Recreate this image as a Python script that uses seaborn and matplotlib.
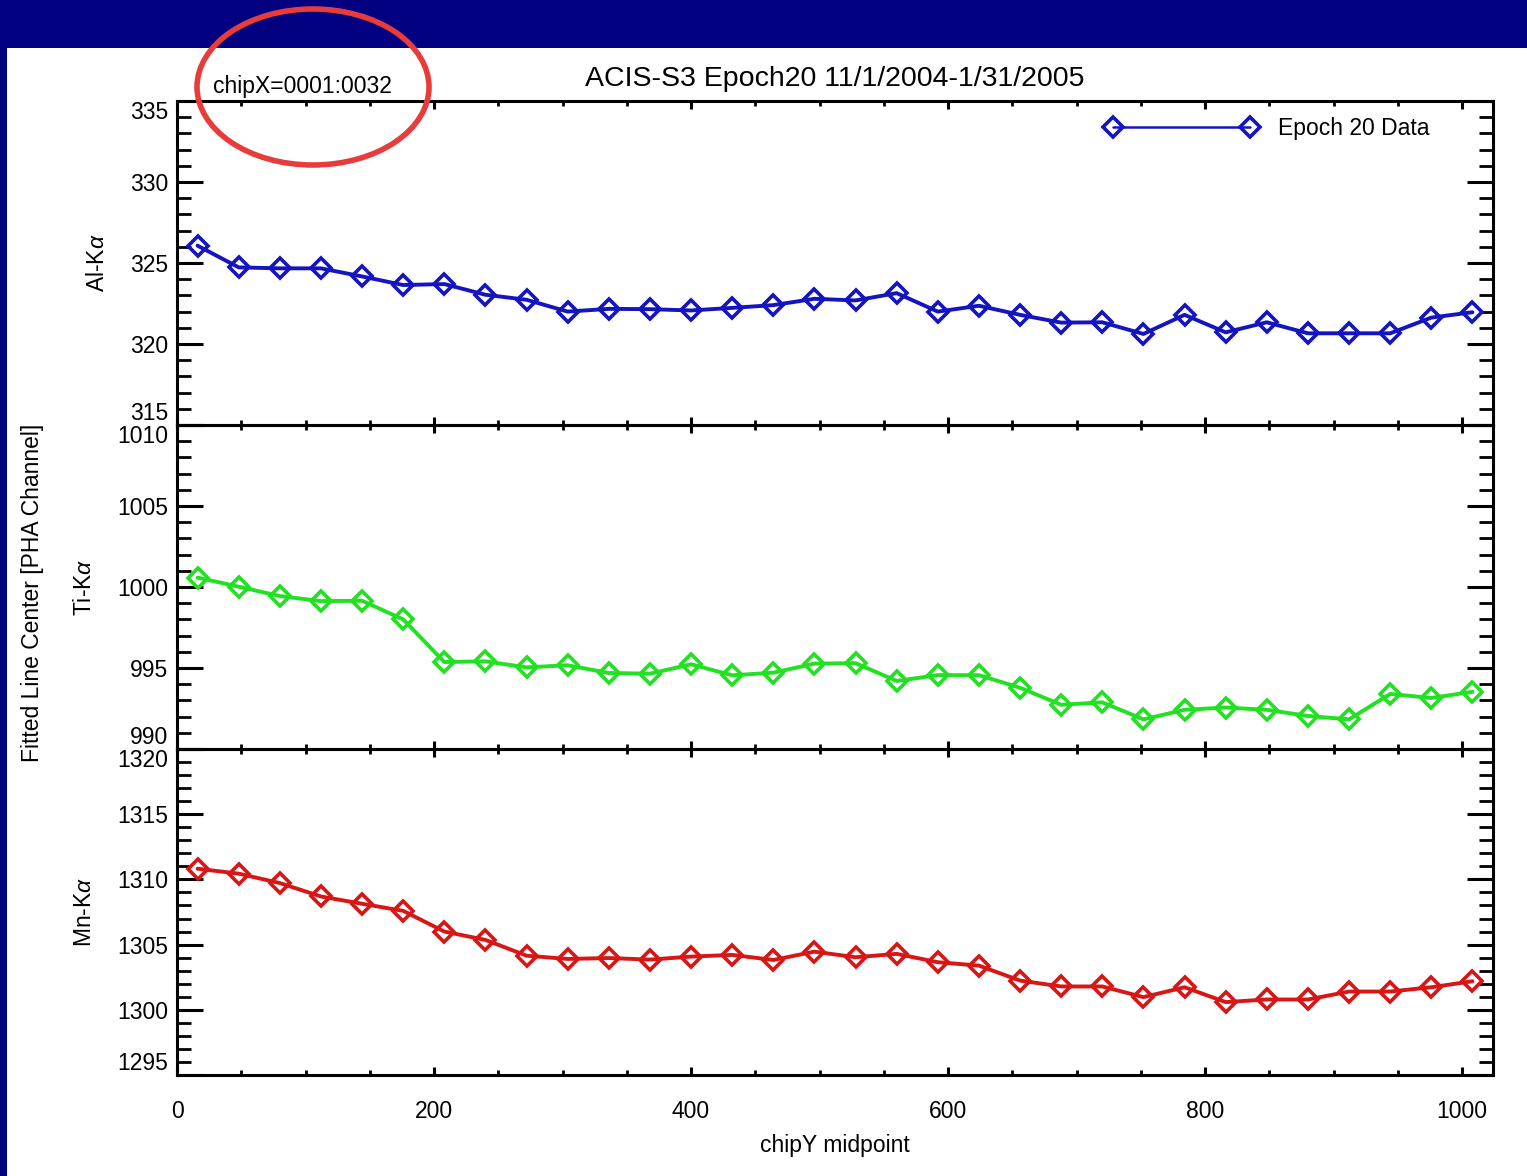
import numpy as np
import pandas as pd
import matplotlib
matplotlib.use("Agg")
import matplotlib.pyplot as plt
from matplotlib.patches import Rectangle, Ellipse
from matplotlib.ticker import MultipleLocator
import seaborn as sns

# ---- data -------------------------------------------------------------
chip_y = [16 + 32 * i for i in range(32)]

al_ka = [326.07, 324.73, 324.67, 324.67, 324.17, 323.64, 323.70, 323.04,
         322.73, 322.00, 322.17, 322.15, 322.07, 322.23, 322.40, 322.79,
         322.69, 323.14, 322.00, 322.36, 321.80, 321.32, 321.34, 320.62,
         321.80, 320.72, 321.34, 320.66, 320.66, 320.66, 321.63, 321.96]

ti_ka = [1000.58, 1000.02, 999.44, 999.13, 999.15, 998.00, 995.37, 995.41,
         995.04, 995.17, 994.69, 994.65, 995.23, 994.55, 994.71, 995.27,
         995.30, 994.20, 994.56, 994.56, 993.78, 992.73, 992.88, 991.83,
         992.42, 992.56, 992.42, 992.04, 991.83, 993.40, 993.15, 993.53]

mn_ka = [1310.82, 1310.44, 1309.72, 1308.69, 1308.13, 1307.59, 1306.00, 1305.36,
         1304.15, 1303.90, 1303.97, 1303.85, 1304.08, 1304.21, 1303.82, 1304.46,
         1304.03, 1304.29, 1303.65, 1303.39, 1302.24, 1301.79, 1301.79, 1300.97,
         1301.73, 1300.59, 1300.79, 1300.79, 1301.40, 1301.40, 1301.73, 1302.19]

panel_labels = [r"Al-K$\alpha$", r"Ti-K$\alpha$", r"Mn-K$\alpha$"]
panel_series = [al_ka, ti_ka, mn_ka]
panel_colors = ["#1414C0", "#22E022", "#D81616"]
panel_ylims = [(315, 335), (990, 1010), (1295, 1320)]
x_ticks = [0, 200, 400, 600, 800, 1000]

title = "ACIS-S3 Epoch20 11/1/2004-1/31/2005"
region_text = "chipX=0001:0032"
legend_text = "Epoch 20 Data"

# ---- style ------------------------------------------------------------
sns.set_theme(style="white")
plt.rcParams["font.family"] = ["Liberation Sans", "DejaVu Sans"]
plt.rcParams["mathtext.fontset"] = "custom"
plt.rcParams["mathtext.rm"] = "Liberation Sans"
plt.rcParams["mathtext.it"] = "Liberation Sans:italic"
for key in ["text.color", "axes.labelcolor", "xtick.color", "ytick.color"]:
    plt.rcParams[key] = "black"

W, H = 1527, 1176
fig = plt.figure(figsize=(W / 100, H / 100), dpi=100, facecolor="#000080")

# white page area
fig.patches.append(Rectangle((7 / W, 0), 1 - 7 / W, (H - 48) / H,
                             transform=fig.transFigure, facecolor="white",
                             edgecolor="none", zorder=-5))

left, right = 177 / W, 1493 / W
bounds = [(101, 425), (425, 749), (749, 1075)]

axes = []
for (top, bot) in bounds:
    ax = fig.add_axes([left, (H - bot) / H, right - left, (bot - top) / H])
    ax.set_facecolor("none")
    axes.append(ax)

for i, (ax, ys, col, lab, ylim) in enumerate(zip(axes, panel_series, panel_colors,
                                                  panel_labels, panel_ylims)):
    df = pd.DataFrame({"chipY": chip_y, "value": ys})
    sns.lineplot(data=df, x="chipY", y="value", ax=ax, color=col,
                 linewidth=2.8, marker="D", markersize=10.5,
                 markerfacecolor="none", markeredgecolor=col,
                 markeredgewidth=2.6, label=legend_text if i == 0 else None,
                 legend=False)
    ax.set_xlim(0, 1024)
    ax.set_ylim(*ylim)
    yt = np.arange(ylim[0], ylim[1] + 0.1, 5)
    ax.set_yticks(yt)
    ax.set_yticklabels([f"{int(v)}" for v in yt])
    ax.yaxis.set_minor_locator(MultipleLocator(1))
    ax.set_xticks(x_ticks)
    ax.xaxis.set_minor_locator(MultipleLocator(50))
    ax.tick_params(axis="y", which="major", direction="in", length=19, width=2.2,
                   left=True, right=True, labelsize=16.5, pad=6.5)
    ax.tick_params(axis="y", which="minor", direction="in", length=10, width=2.0,
                   left=True, right=True)
    ax.tick_params(axis="x", which="major", direction="in", length=6, width=2.2,
                   top=True, bottom=True, labelsize=16.5, pad=18)
    ax.tick_params(axis="x", which="minor", direction="in", length=3.5, width=2.0,
                   top=True, bottom=True)
    # end labels sit inside the panel, as in the stacked layout
    labs = ax.get_yticklabels()
    labs[0].set_verticalalignment("bottom")
    labs[-1].set_verticalalignment("top")
    for sp in ax.spines.values():
        sp.set_color("black")
        sp.set_linewidth(2.2)
    ax.set_ylabel(lab, fontsize=16.5, labelpad=15)
    if i < 2:
        ax.set_xlabel("")
        ax.tick_params(axis="x", labelbottom=False)
    else:
        ax.set_xlabel("chipY midpoint", fontsize=16.5, labelpad=8)

axes[0].set_title(title, fontsize=20.5, pad=11)
leg = axes[0].legend(loc="center right", bbox_to_anchor=(0.952, 0.9136),
                     frameon=False, numpoints=2, handlelength=6.55,
                     handletextpad=0.95, borderpad=0, borderaxespad=0,
                     fontsize=16.5)
for ln in leg.get_lines():
    ln.set_linewidth(1.8)

fig.text(33 / W, (H - 593) / H, "Fitted Line Center [PHA Channel]",
         rotation=90, ha="center", va="center", fontsize=16.5)
fig.text(213 / W, (H - 87) / H, region_text, ha="left", va="center", fontsize=16.5)

# highlight around the chip region note
fig.patches.append(Ellipse((313 / W, (H - 87) / H), 232 / W, 156 / H,
                           transform=fig.transFigure, facecolor="none",
                           edgecolor="#E83C3C", linewidth=4, zorder=10))

fig.savefig("out.png", dpi=100, facecolor=fig.get_facecolor())
